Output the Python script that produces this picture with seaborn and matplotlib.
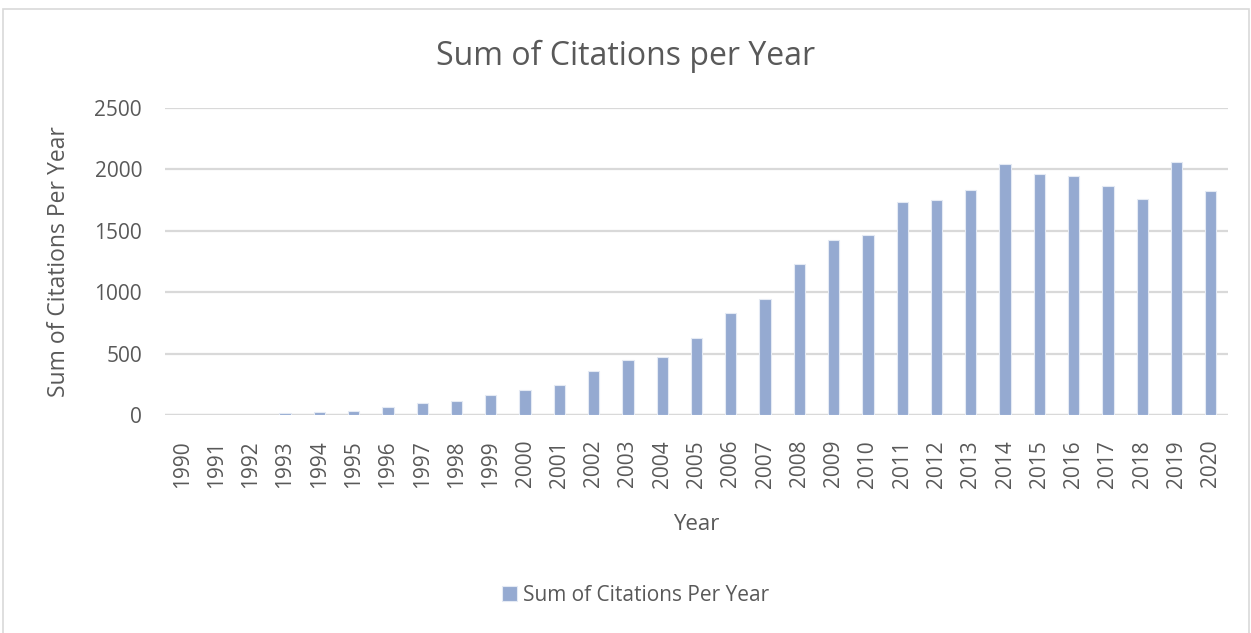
import matplotlib
matplotlib.use("Agg")
import matplotlib.pyplot as plt
import seaborn as sns
import pandas as pd
from matplotlib.patches import Rectangle

years = [str(y) for y in range(1990, 2021)]
citations = [0, 0, 0, 15, 22, 30, 68, 95, 117, 165, 204, 245, 357, 448, 472, 624,
             831, 943, 1230, 1425, 1463, 1733, 1747, 1831, 2041, 1959, 1943, 1864,
             1756, 2057, 1828]
series_name = "Sum of Citations Per Year"

df = pd.DataFrame({"Year": years, "Citations": citations})

sns.set_theme(style="white")
plt.rcParams["font.family"] = ["Open Sans", "DejaVu Sans"]

text_color = "#595959"
grid_color = "#D9D9D9"
bar_color = "#95AAD1"

fig = plt.figure(figsize=(12.51, 6.33), dpi=100)
ax = fig.add_axes([0.1319, 0.3444, 0.8497, 0.485])

sns.barplot(data=df, x="Year", y="Citations", color=bar_color, width=0.33,
            edgecolor="#E4EAF4", linewidth=0.8, label=series_name, ax=ax,
            saturation=1, zorder=3)

ax.set_ylim(0, 2500)
ax.set_yticks(range(0, 2501, 500))
ax.set_xlim(-0.5, len(years) - 0.5)
ax.yaxis.grid(True, color=grid_color, linewidth=1.6, zorder=0)
ax.xaxis.grid(False)
for s in ax.spines.values():
    s.set_visible(False)
ax.axhline(0, color=grid_color, linewidth=1.6, zorder=2)

ax.tick_params(axis="x", labelrotation=90, labelsize=15, colors=text_color, length=0, pad=18)
ax.tick_params(axis="y", labelsize=15, colors=text_color, length=0, pad=16.5)

ax.set_xlabel("Year", fontsize=16, color=text_color, labelpad=19)
ax.set_ylabel("Sum of Citations Per Year", fontsize=16.5, color=text_color, labelpad=17)
fig.suptitle("Sum of Citations per Year", fontsize=23, color=text_color, y=0.937)

ax.legend(loc="center", bbox_to_anchor=(0.508, 0.06), bbox_transform=fig.transFigure,
          frameon=False, fontsize=15, labelcolor=text_color, handlelength=0.7,
          handleheight=0.7, handletextpad=0.3)

fig.patches.append(Rectangle((3 / 1251, -0.05), (1249 - 3) / 1251, 1.05 - 9 / 633,
                             transform=fig.transFigure, fill=False,
                             edgecolor="#D9D9D9", linewidth=1.2))

fig.savefig("out.png", dpi=100, facecolor="white")
